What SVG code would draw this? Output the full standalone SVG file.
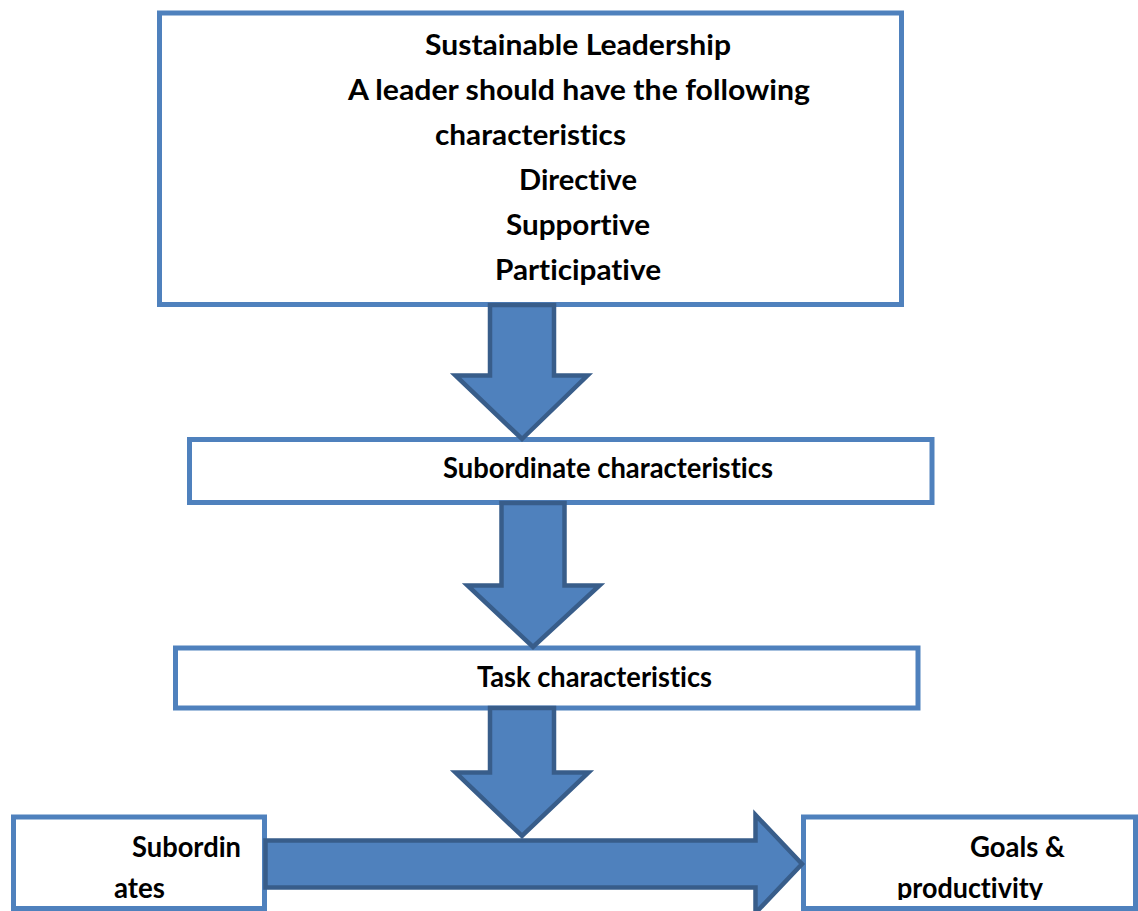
<svg xmlns="http://www.w3.org/2000/svg" width="1138" height="911" viewBox="0 0 1138 911">
  <style>
    .box { fill: #ffffff; stroke: #4F81BD; stroke-width: 5; }
    .arrow { fill: #4F81BD; stroke: #385D8A; stroke-width: 4.5; stroke-linejoin: miter; }
    .lbl { font-family: Lato, "Open Sans", "Liberation Sans", sans-serif; font-weight: bold; font-size: 28px; fill: #000000; font-variant-ligatures: none; }
  </style>
  <defs>
    <clipPath id="bottomClip">
      <rect x="0" y="0" width="1138" height="900"/>
    </clipPath>
  </defs>
  <rect width="1138" height="911" fill="#ffffff"/>

  <!-- Leader box -->
  <g id="node-leadership">
    <rect class="box" x="159.5" y="13" width="742" height="291.5"/>
    <text class="lbl" x="425" y="55" textLength="306" lengthAdjust="spacingAndGlyphs">Sustainable Leadership</text>
    <text class="lbl" x="348" y="100" textLength="462" lengthAdjust="spacingAndGlyphs">A leader should have the following</text>
    <text class="lbl" x="435" y="145" textLength="191" lengthAdjust="spacingAndGlyphs">characteristics</text>
    <text class="lbl" x="519" y="190" textLength="118" lengthAdjust="spacingAndGlyphs">Directive</text>
    <text class="lbl" x="506" y="235" textLength="144" lengthAdjust="spacingAndGlyphs">Supportive</text>
    <text class="lbl" x="495" y="280" textLength="166" lengthAdjust="spacingAndGlyphs">Participative</text>
  </g>

  <g id="node-subordinate-characteristics">
    <rect class="box" x="189.5" y="439.5" width="742.5" height="63"/>
    <text class="lbl" x="443" y="478" textLength="330" lengthAdjust="spacingAndGlyphs">Subordinate characteristics</text>
  </g>

  <g id="node-task-characteristics">
    <rect class="box" x="175.5" y="648" width="742.5" height="60"/>
    <text class="lbl" x="477" y="687" textLength="235" lengthAdjust="spacingAndGlyphs">Task characteristics</text>
  </g>

  <g id="node-subordinates">
    <rect class="box" x="13.5" y="817" width="251" height="91.5"/>
    <g clip-path="url(#bottomClip)">
      <text class="lbl" x="132" y="857" textLength="109" lengthAdjust="spacingAndGlyphs">Subordin</text>
      <text class="lbl" x="114" y="898" textLength="51" lengthAdjust="spacingAndGlyphs">ates</text>
    </g>
  </g>

  <g id="node-goals">
    <rect class="box" x="803.5" y="817" width="332" height="91.5"/>
    <g clip-path="url(#bottomClip)">
      <text class="lbl" x="970" y="857" textLength="95" lengthAdjust="spacingAndGlyphs">Goals &amp;</text>
      <text class="lbl" x="897" y="898" textLength="146" lengthAdjust="spacingAndGlyphs">productivity</text>
    </g>
  </g>

  <!-- Block arrows -->
  <g id="connectors">
    <path class="arrow" d="M490,305 L554,305 L554,375.5 L587.5,375.5 L522,439 L455.5,375.5 L490,375.5 Z"/>
    <path class="arrow" d="M501.5,503 L564.5,503 L564.5,585.5 L599.5,585.5 L533,647 L467.5,585.5 L501.5,585.5 Z"/>
    <path class="arrow" d="M490,708 L554,708 L554,772.5 L588.5,772.5 L522,836 L455.5,772.5 L490,772.5 Z"/>
    <path class="arrow" d="M265.5,840.5 L755.5,840.5 L755.5,815 L802,864 L755.5,913 L755.5,887.5 L265.5,887.5 Z"/>
  </g>
</svg>
